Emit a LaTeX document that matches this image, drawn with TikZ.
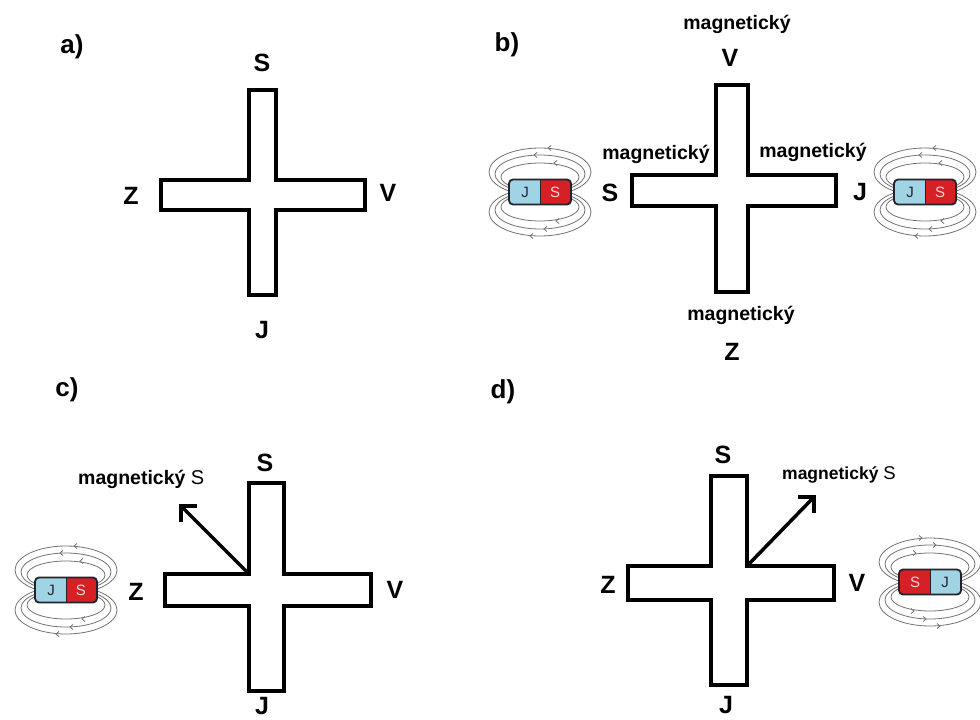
\documentclass[tikz,border=0pt]{standalone}
\usepackage{fontspec}
\setmainfont{Liberation Sans}
\usetikzlibrary{calc}

\definecolor{jblue}{RGB}{160,212,228}
\definecolor{sred}{RGB}{214,32,38}
\definecolor{edge}{RGB}{35,35,45}
\definecolor{fieldgray}{RGB}{115,115,115}

% outline of a plus-shaped board: vertical bar x1..x2, y1..y2; horizontal bar x3..x4, y3..y4
\newcommand\plusoutline[8]{%
  \draw[bar] (#1,#3) -- (#2,#3) -- (#2,#7) -- (#6,#7) -- (#6,#8) -- (#2,#8)
    -- (#2,#4) -- (#1,#4) -- (#1,#8) -- (#5,#8) -- (#5,#7) -- (#1,#7) -- cycle;}

\tikzset{
  bar/.style={line width=4pt, line join=miter, fill=white},
  pole/.style={font=\fontsize{25}{25}\selectfont\bfseries, inner sep=0pt},
  panel/.style={font=\fontsize{26}{26}\selectfont\bfseries, inner sep=0pt},
  tag/.style={font=\fontsize{19.5}{19.5}\selectfont\bfseries, inner sep=0pt, anchor=base},
  smalltag/.style={font=\fontsize{17.5}{17.5}\selectfont\bfseries, inner sep=0pt, anchor=base west},
  fieldline/.style={draw=fieldgray, line width=0.8pt},
  needle/.style={line width=3.5pt, line join=miter, line cap=butt},
  magnet/.pic={
    % field lines above and below the bar magnet
    \foreach \cy/\rx/\ry in {20/51/24, 18/45/19, 15/39/14}{
      \draw[fieldline] (0,-\cy) ellipse [x radius=\rx, y radius=\ry];
      \draw[fieldline] (0,\cy) ellipse [x radius=\rx, y radius=\ry];
    }
    \foreach \x/\y in {8/-44, -6/-37, 14/-29, -10/44, 4/37, 16/29}{
      \draw[fieldline] (\x+3,\y-2.5) -- (\x,\y) -- (\x+3,\y+2.5);
    }
    % magnet body
    \begin{scope}
      \clip[rounded corners=4pt] (-31,-12.5) rectangle (31,12.5);
      \fill[jblue] (-31,-12.5) rectangle (0,12.5);
      \fill[sred] (0,-12.5) rectangle (31,12.5);
    \end{scope}
    \draw[edge, line width=1.8pt, rounded corners=4pt] (-31,-12.5) rectangle (31,12.5);
    \draw[edge, line width=1pt] (0,-12.5) -- (0,12.5);
    \node[font=\fontsize{15}{15}\selectfont, text=edge, inner sep=0pt] (-jpole) at (-15,0.5) {J};
    \node[font=\fontsize{15}{15}\selectfont, text={rgb,255:red,245;green,215;blue,215}, inner sep=0pt] (-spole) at (15,0.5) {S};
  }
}

\begin{document}
\begin{tikzpicture}[x=1pt, y=-1pt]
  \useasboundingbox (0,0) rectangle (980,720);
  \clip (0,0) rectangle (980,720);
  \fill[white] (0,0) rectangle (980,720);

  % ---------- a) ----------
  \node[panel] (pa) at (72,47) {a)};
  \plusoutline{249}{276}{90}{295}{161}{365}{180}{210}
  \node[pole] (aS) at (262,63) {S};
  \node[pole] (aZ) at (131,196) {Z};
  \node[pole] (aV) at (388,193) {V};
  \node[pole] (aJ) at (262,330) {J};

  % ---------- b) ----------
  \node[panel] (pb) at (507,45) {b)};
  \plusoutline{716}{748}{85}{292}{632}{836}{175}{206}
  \node[tag] (bt1) at (737,29) {magnetický};
  \node[pole] (bV) at (730,58) {V};
  \node[tag] (bt2) at (656,159) {magnetický};
  \node[tag] (bt3) at (813,157) {magnetický};
  \node[pole] (bS) at (610,193) {S};
  \node[pole] (bJ) at (860,192) {J};
  \node[tag] (bt4) at (741,320) {magnetický};
  \node[pole] (bZ) at (732,352) {Z};
  \pic (bm1) at (540,192) {magnet};
  \pic (bm2) at (925,192) {magnet};

  % ---------- c) ----------
  \node[panel] (pc) at (67,390) {c)};
  \plusoutline{249}{284}{483}{691}{165}{371}{574}{606}
  \node[pole] (cS) at (265,463) {S};
  \node[pole] (cZ) at (136,592) {Z};
  \node[pole] (cV) at (395,590) {V};
  \node[pole] (cJ) at (262,706) {J};
  \node[tag, anchor=base west] (ct) at (78,484)
    {magnetický {\fontsize{20}{20}\selectfont\mdseries S}};
  \coordinate (cfrom) at (249,574);
  \coordinate (cto) at (181,506);
  \draw[needle] (cfrom) -- (cto);
  \draw[needle] ($(cto)+(0,16)$) -- (cto) -- ($(cto)+(16,0)$);
  \pic (cm) at (66,590) {magnet};

  % ---------- d) ----------
  \node[panel] (pd) at (503,392) {d)};
  \plusoutline{711}{747}{476}{685}{628}{834}{566}{600}
  \node[pole] (dS) at (723,455) {S};
  \node[pole] (dZ) at (608,585) {Z};
  \node[pole] (dV) at (857,583) {V};
  \node[pole] (dJ) at (726,705) {J};
  \node[smalltag] (dt) at (782,479)
    {magnetický {\fontsize{18.5}{18.5}\selectfont\mdseries S}};
  \coordinate (dfrom) at (747,566);
  \coordinate (dto) at (814,497);
  \draw[needle] (dfrom) -- (dto);
  \draw[needle] ($(dto)+(-16,0)$) -- (dto) -- ($(dto)+(0,16)$);
  \pic[xscale=-1] (dm) at (930,582) {magnet};
\end{tikzpicture}
\end{document}
